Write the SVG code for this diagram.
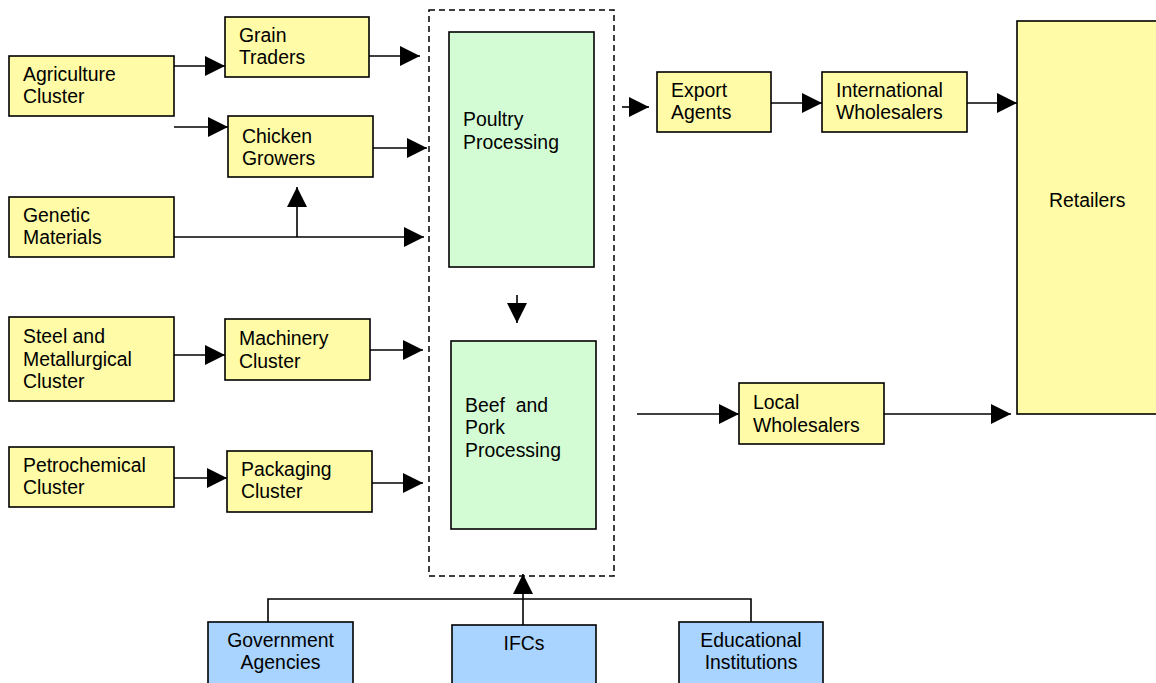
<svg xmlns="http://www.w3.org/2000/svg" width="1156" height="683" viewBox="0 0 1156 683">
<style>
.y{fill:#FFFBA6;stroke:#000;stroke-width:1.6}
.g{fill:#D4FCD4;stroke:#000;stroke-width:1.6}
.b{fill:#A8D4FF;stroke:#000;stroke-width:1.6}
text{font-family:"Liberation Sans",Arial,sans-serif;font-size:19.4px;fill:#000;white-space:pre}
.c{text-anchor:middle}
.ln{fill:none;stroke:#000;stroke-width:1.6}
.ar{marker-end:url(#ah)}
</style>
<defs>
<marker id="ah" markerUnits="userSpaceOnUse" markerWidth="20" markerHeight="20" refX="20" refY="10" orient="auto">
<path d="M0,0 L20,10 L0,20 z" fill="#000"/>
</marker>
</defs>
<rect width="1156" height="683" fill="#fff"/>
<g id="processing-boundary">
<rect x="429" y="10" width="185" height="566" fill="none" stroke="#000" stroke-width="1.5" stroke-dasharray="6,4"/>
</g>
<g id="agriculture"><rect class="y" x="9" y="56" width="165" height="60"/><text x="23" y="81">Agriculture</text><text x="23" y="103">Cluster</text></g>
<g id="grain"><rect class="y" x="225" y="17" width="144" height="60"/><text x="239" y="42">Grain</text><text x="239" y="64">Traders</text></g>
<g id="chicken"><rect class="y" x="228" y="116" width="145" height="61"/><text x="242" y="143">Chicken</text><text x="242" y="165">Growers</text></g>
<g id="genetic"><rect class="y" x="9" y="197" width="165" height="60"/><text x="23" y="222">Genetic</text><text x="23" y="244">Materials</text></g>
<g id="steel"><rect class="y" x="9" y="317" width="165" height="84"/><text x="23" y="343">Steel and</text><text x="23" y="366">Metallurgical</text><text x="23" y="388">Cluster</text></g>
<g id="machinery"><rect class="y" x="225" y="319" width="145" height="61"/><text x="239" y="345">Machinery</text><text x="239" y="368">Cluster</text></g>
<g id="petrochemical"><rect class="y" x="9" y="447" width="165" height="60"/><text x="23" y="472">Petrochemical</text><text x="23" y="494">Cluster</text></g>
<g id="packaging"><rect class="y" x="227" y="451" width="145" height="61"/><text x="241" y="476">Packaging</text><text x="241" y="498">Cluster</text></g>
<g id="poultry"><rect class="g" x="449" y="32" width="145" height="235"/><text x="463" y="126">Poultry</text><text x="463" y="149">Processing</text></g>
<g id="beef"><rect class="g" x="451" y="341" width="145" height="188"/><text x="465" y="412">Beef  and</text><text x="465" y="434">Pork</text><text x="465" y="457">Processing</text></g>
<g id="export"><rect class="y" x="657" y="72" width="114" height="60"/><text x="671" y="97">Export</text><text x="671" y="119">Agents</text></g>
<g id="international"><rect class="y" x="822" y="72" width="145" height="60"/><text x="836" y="97">International</text><text x="836" y="119">Wholesalers</text></g>
<g id="local"><rect class="y" x="739" y="383" width="145" height="61"/><text x="753" y="409">Local</text><text x="753" y="432">Wholesalers</text></g>
<g id="retailers"><rect class="y" x="1017" y="21" width="145" height="393"/><text x="1049" y="207">Retailers</text></g>
<g id="government"><rect class="b" x="208" y="622" width="145" height="70"/><text class="c" x="280.5" y="647">Government</text><text class="c" x="280.5" y="669">Agencies</text></g>
<g id="ifcs"><rect class="b" x="452" y="625" width="144" height="70"/><text class="c" x="524" y="650">IFCs</text></g>
<g id="educational"><rect class="b" x="679" y="622" width="144" height="70"/><text class="c" x="751" y="647">Educational</text><text class="c" x="751" y="669">Institutions</text></g>
<g id="connectors">
<path class="ln ar" d="M174,66 H225"/>
<path class="ln ar" d="M369,56 H420"/>
<path class="ln ar" d="M174,127 H228"/>
<path class="ln ar" d="M373,148 H427"/>
<path class="ln ar" d="M174,237 H424"/>
<path class="ln ar" d="M297,237 V187"/>
<path class="ln ar" d="M174,355 H225"/>
<path class="ln ar" d="M370,350 H423"/>
<path class="ln ar" d="M174,478 H227"/>
<path class="ln ar" d="M372,483 H423"/>
<path class="ln ar" d="M517,295 V323"/>
<path class="ln ar" d="M622,107 H649"/>
<path class="ln ar" d="M771,103 H822"/>
<path class="ln ar" d="M967,103 H1017"/>
<path class="ln ar" d="M637,414 H739"/>
<path class="ln ar" d="M884,414 H1011"/>
<path class="ln" d="M268,622 V599 H751 V622"/>
<path class="ln ar" d="M523,625 V574"/>
</g>
</svg>
